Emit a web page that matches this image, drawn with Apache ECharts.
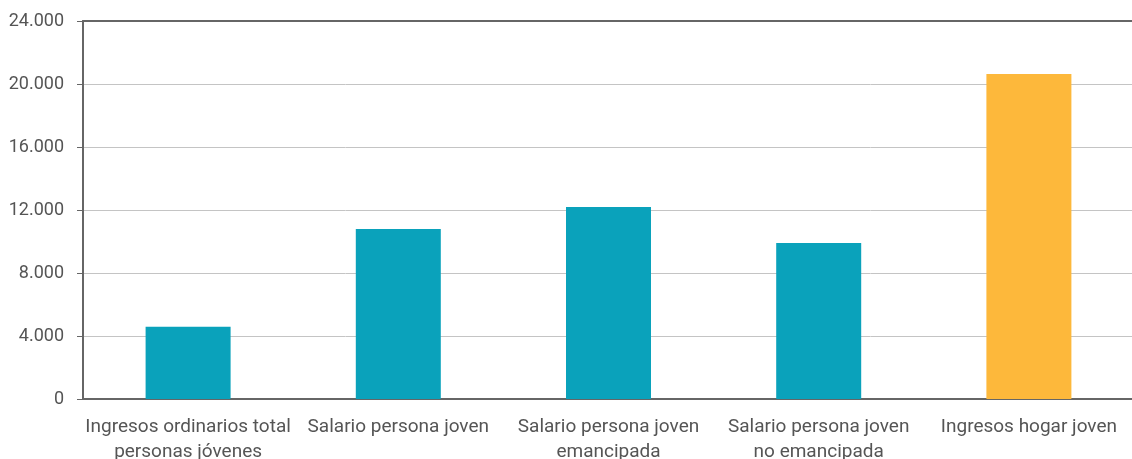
<!DOCTYPE html>
<html>
<head>
<meta charset="utf-8">
<script src="https://cdn.jsdelivr.net/npm/echarts@6/dist/echarts.min.js"></script>
<style>html,body{margin:0;padding:0;background:#fff}#c{width:1132px;height:459px}</style>
</head>
<body>
<div id="c"></div>
<script>
const categories = ["Ingresos ordinarios total\npersonas jóvenes", "Salario persona joven", "Salario persona joven\nemancipada", "Salario persona joven\nno emancipada", "Ingresos hogar joven"];
const values = [4590, 10800, 12190, 9905, 20640];
const barColors = ["#0aa2bb", "#0aa2bb", "#0aa2bb", "#0aa2bb", "#fdb83b"];

const chart = echarts.init(document.getElementById('c'));
const fmt = v => String(v).replace(/\B(?=(\d{3})+(?!\d))/g, '.');
chart.setOption({
  animation: false,
  grid: { left: 83, top: 21, width: 1051, height: 378, containLabel: false, outerBoundsMode: 'none' },
  xAxis: [{
    type: 'category', data: categories,
    axisLine: { lineStyle: { color: '#666', width: 2 } },
    axisTick: { show: false },
    axisLabel: { color: '#555', fontFamily: 'Roboto', fontSize: 19, lineHeight: 25, margin: 16, interval: 0 }
  }, {
    type: 'category', data: categories, position: 'top',
    axisLine: { show: true, lineStyle: { color: '#666', width: 2 } },
    axisTick: { show: false }, axisLabel: { show: false }
  }],
  yAxis: {
    type: 'value', min: 0, max: 24000, interval: 4000,
    axisLine: { show: true, lineStyle: { color: '#666', width: 2 } },
    axisTick: { show: true, length: 6, lineStyle: { color: '#666', width: 1 } },
    splitLine: { lineStyle: { color: '#c4c4c4', width: 1 } },
    axisLabel: { color: '#555', fontFamily: 'Roboto', fontSize: 18, margin: 19, formatter: fmt }
  },
  series: [{
    type: 'bar', barWidth: 85,
    data: values.map((v, i) => ({ value: v, itemStyle: { color: barColors[i] } }))
  }]
});
</script>
</body>
</html>
